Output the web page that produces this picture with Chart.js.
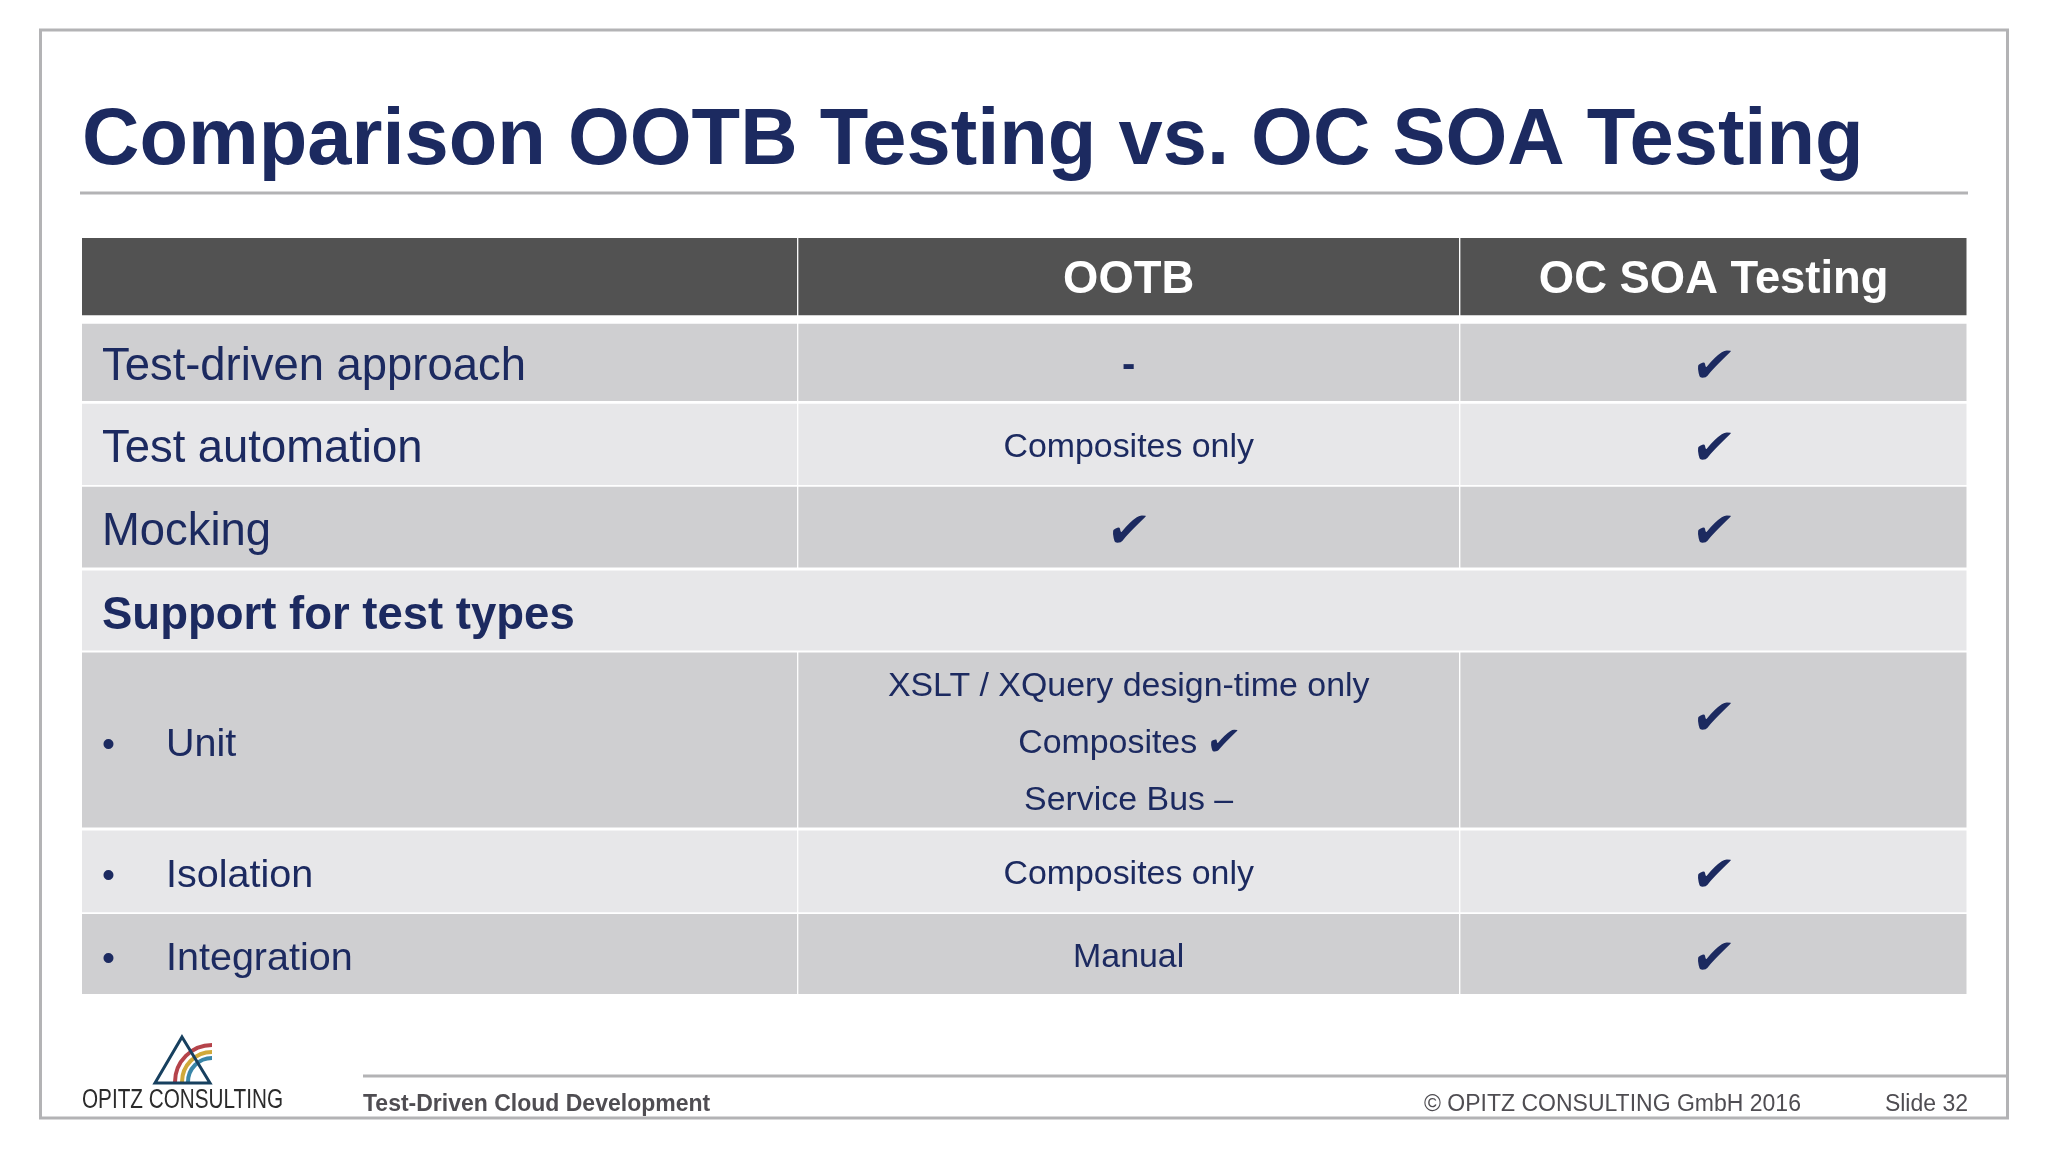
<!DOCTYPE html>
<html><head><meta charset="utf-8">
<style>html,body{margin:0;padding:0;background:#fff}canvas{display:block}</style>
<script src="https://cdn.jsdelivr.net/npm/chart.js@4"></script></head>
<body><canvas id="c" width="2048" height="1152"></canvas>
<script>
const titleText = "Comparison OOTB Testing vs. OC SOA Testing";
const columnHeaders = ["", "OOTB", "OC SOA Testing"];
const rowLabels = ["Test-driven approach","Test automation","Mocking","Support for test types","Unit","Isolation","Integration"];
const ootbCells = ["-","Composites only","✔","",["XSLT / XQuery design-time only","Composites ✔","Service Bus –"],"Composites only","Manual"];
const ocSoaCells = ["✔","✔","✔","","✔","✔","✔"];
const bulletRows = ["Unit","Isolation","Integration"];
const mergedRows = ["Support for test types"];
const footerLeft = "Test-Driven Cloud Development";
const footerCopy = "© OPITZ CONSULTING GmbH 2016";
const footerSlide = "Slide 32";
const logoText = "OPITZ CONSULTING";

// table grid, in table units
const columnWidths = [715, 660, 506];
const columnGap = 2.5;
const rowHeights = [77, 76.7, 80.5, 80, 79.3, 174.3, 81, 79.7];
const rowGaps = [9, 3.3, 2.5, 3.7, 2.7, 3.6, 2.4];

const NAVY="#1c2a60", HEAD="#525252", DARK="#cfcfd1", LIGHT="#e7e7e9", RULE="#b3b3b5", GREY="#4f4d52";
const rowTop=[], rowBottom=[]; let yy=0;
rowHeights.forEach((h,i)=>{rowTop.push(yy);rowBottom.push(yy+h);yy+=h+(rowGaps[i]||0);});
const tableH=yy;
const colLeft=[];let xx=0;
columnWidths.forEach(w=>{colLeft.push(xx);xx+=w+columnGap;});
const tableW=xx-columnGap;
const colCenter=columnWidths.map((w,i)=>colLeft[i]+w/2);
const rowColor=i=>i===0?HEAD:(i%2===1?DARK:LIGHT);
const isMerged=i=>i>0&&mergedRows.includes(rowLabels[i-1]);

function colDataset(c){
  const idx=rowHeights.map((_,i)=>i).filter(i=>!isMerged(i));
  return {data:idx.map(i=>({x:colCenter[c],y:[rowTop[i],rowBottom[i]]})),
    backgroundColor:idx.map(rowColor),barThickness:columnWidths[c],grouped:false};
}
const mergedIdx=rowHeights.map((_,i)=>i).filter(isMerged);
const datasets=[0,1,2].map(colDataset).concat([{
  data:mergedIdx.map(i=>({x:tableW/2,y:[rowTop[i],rowBottom[i]]})),
  backgroundColor:mergedIdx.map(rowColor),barThickness:tableW,grouped:false}]);

const SANS='"Liberation Sans"', CHECK='"DejaVu Sans"';
function put(ctx,t,x,y,font,color,align){ctx.font=font;ctx.fillStyle=color;ctx.textAlign=align||"left";ctx.textBaseline="alphabetic";ctx.fillText(t,x,y);}
function check(ctx,x,cy,size){
  ctx.save();
  ctx.transform(1,0,-0.16,1,x-3,cy+size*0.37);
  put(ctx,"✔",0,0,`${size}px ${CHECK}`,NAVY,"center");
  ctx.restore();
}

const tablePlugin={id:"tableText",afterDatasetsDraw(chart){
  const ctx=chart.ctx,X=chart.scales.x,Y=chart.scales.y;
  ctx.save();
  const cx=c=>X.getPixelForValue(colCenter[c]);
  const cy=i=>Y.getPixelForValue((rowTop[i]+rowBottom[i])/2);
  const left=X.getPixelForValue(0);
  const CELL=`33.9px ${SANS}`;
  columnHeaders.forEach((h,c)=>{if(h)put(ctx,h,cx(c),cy(0)+16,`bold 45.4px ${SANS}`,"#fff","center");});
  rowLabels.forEach((lab,k)=>{
    const r=k+1,m=cy(r);
    if(mergedRows.includes(lab)){put(ctx,lab,left+20,m+18.5,`bold 45.5px ${SANS}`,NAVY);return;}
    if(bulletRows.includes(lab)){
      put(ctx,"•",left+20,m+16,`37px ${SANS}`,NAVY);
      put(ctx,lab,left+84,m+16,`39.5px ${SANS}`,NAVY);
    } else put(ctx,lab,left+20,m+18,`45.4px ${SANS}`,NAVY);
    const v=ootbCells[k];
    if(Array.isArray(v)){
      v.forEach((line,j)=>{
        const ly=m+(j-1)*57+13;
        if(line.includes("✔")){
          const t=line.replace(" ✔","");ctx.font=CELL;
          const w=ctx.measureText(t).width,gap=12,cw=30;
          const x0=cx(1)-(w+gap+cw)/2;
          put(ctx,t,x0,ly,CELL,NAVY);
          check(ctx,x0+w+gap+cw/2,ly-13,40);
        } else put(ctx,line,cx(1),ly,CELL,NAVY,"center");
      });
    } else if(v==="✔") check(ctx,cx(1),m+1,50);
    else if(v==="-") put(ctx,v,cx(1),m+15,`bold 40px ${SANS}`,NAVY,"center");
    else if(v) put(ctx,v,cx(1),m+13,CELL,NAVY,"center");
    if(ocSoaCells[k]==="✔") check(ctx,cx(2),lab==="Unit"?m-25:m+1,50);
  });
  ctx.strokeStyle=RULE;ctx.lineWidth=3;
  ctx.strokeRect(40.5,30,1967,1088);
  ctx.beginPath();ctx.moveTo(80,193);ctx.lineTo(1968,193);ctx.moveTo(363,1076);ctx.lineTo(2007,1076);ctx.stroke();
  put(ctx,footerLeft,363,1111,`bold 23px ${SANS}`,GREY);
  put(ctx,footerCopy,1424,1111,`23px ${SANS}`,GREY);
  put(ctx,footerSlide,1968,1111,`23px ${SANS}`,GREY,"right");
  ctx.lineWidth=4;
  [["#b5434a",37],["#d0a93a",30],["#3a86a8",24]].forEach(([col,r])=>{
    ctx.strokeStyle=col;ctx.beginPath();ctx.arc(212,1082,r,Math.PI,1.5*Math.PI);ctx.stroke();
  });
  ctx.strokeStyle="#17405f";ctx.lineWidth=3;ctx.lineJoin="miter";
  ctx.beginPath();ctx.moveTo(182,1037);ctx.lineTo(210,1083);ctx.lineTo(155,1083);ctx.closePath();ctx.stroke();
  ctx.save();ctx.translate(82,1108);ctx.font=`27px "Liberation Sans"`;
  const lw=ctx.measureText(logoText).width;ctx.scale(201/lw,1);
  put(ctx,logoText,0,0,`27px "Liberation Sans"`,"#2b2b2b");ctx.restore();
  ctx.restore();
}};

new Chart(document.getElementById("c"),{
  type:"bar",
  data:{datasets},
  options:{
    responsive:false,animation:false,devicePixelRatio:1,
    layout:{padding:{left:82,right:81.5,top:0,bottom:158}},
    plugins:{legend:{display:false},tooltip:{enabled:false},
      title:{display:true,text:titleText,align:"start",color:NAVY,
        font:{family:"Liberation Sans",size:79.5,weight:"bold",lineHeight:1},
        padding:{top:102,bottom:56.5}}},
    scales:{
      x:{type:"linear",display:false,min:0,max:tableW,offset:false},
      y:{type:"linear",display:false,min:0,max:tableH,reverse:true}
    }
  },
  plugins:[tablePlugin]
});
</script></body></html>
